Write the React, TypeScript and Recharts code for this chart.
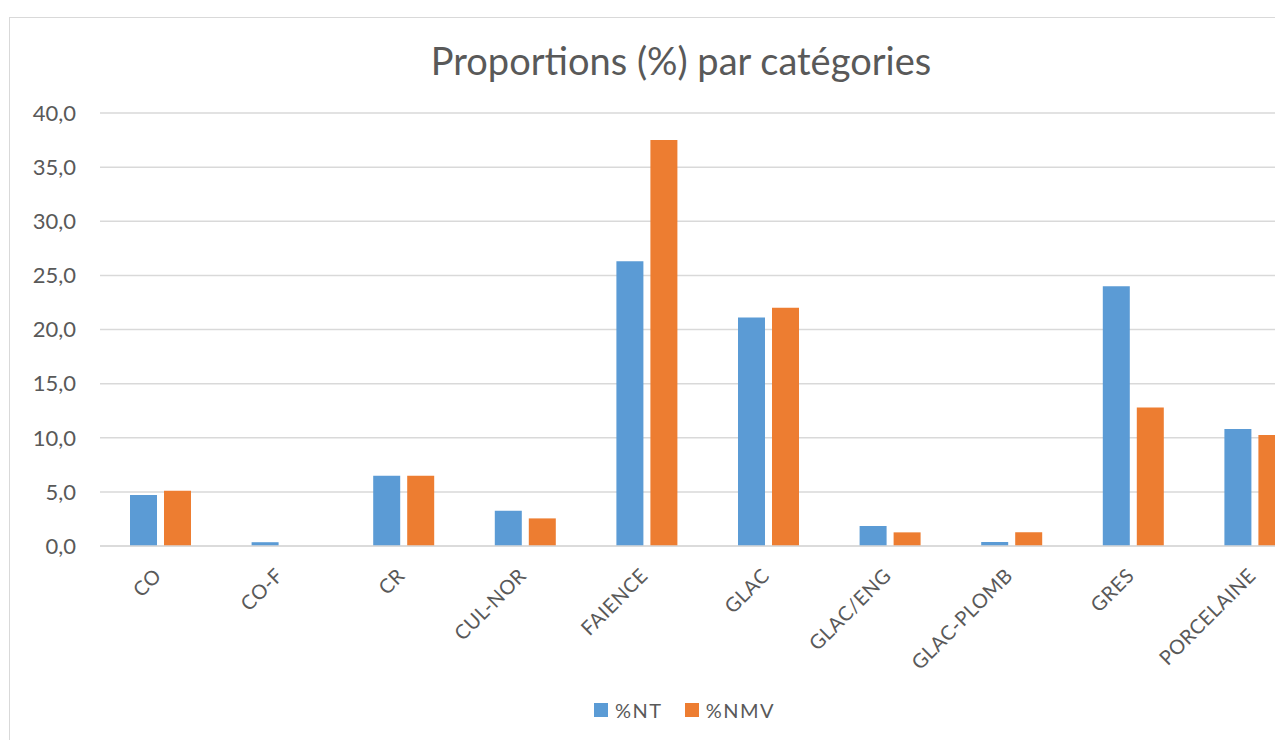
import React from "react";
import { Bar, BarChart, CartesianGrid, XAxis, YAxis } from "recharts";

const categories = [
  "CO",
  "CO-F",
  "CR",
  "CUL-NOR",
  "FAIENCE",
  "GLAC",
  "GLAC/ENG",
  "GLAC-PLOMB",
  "GRES",
  "PORCELAINE",
];
const nt = [4.7, 0.35, 6.5, 3.25, 26.3, 21.1, 1.85, 0.37, 24.0, 10.8];
const nmv = [5.1, 0, 6.5, 2.55, 37.5, 22.0, 1.26, 1.26, 12.8, 10.25];
const yTicks = [0, 5, 10, 15, 20, 25, 30, 35, 40];

const BLUE = "#5b9bd5";
const ORANGE = "#ed7d31";
const GRID = "#d9d9d9";
const TEXT = "#595959";
const FONT = "Lato, 'Open Sans', sans-serif";

const data = categories.map((name, i) => ({ name, nt: nt[i], nmv: nmv[i] }));

function AngledTick({ x, y, payload }: any) {
  return (
    <g transform={`translate(${x - 3},${y + 26})`}>
      <text
        transform="rotate(-45)"
        textAnchor="end"
        dy="0.35em"
        fill={TEXT}
        fontSize={20}
        letterSpacing={0.5}
        fontFamily={FONT}
      >
        {payload.value}
      </text>
    </g>
  );
}

function LegendItem({ color, label }: { color: string; label: string }) {
  return (
    <span style={{ display: "inline-flex", alignItems: "center", marginRight: 22 }}>
      <span style={{ width: 14, height: 14, background: color, marginRight: 7 }} />
      <span>{label}</span>
    </span>
  );
}

export default function App() {
  return (
    <div
      style={{
        position: "fixed",
        left: 0,
        top: 0,
        width: 1275,
        height: 740,
        overflow: "hidden",
        background: "#fff",
        fontFamily: FONT,
      }}
    >
      <div
        style={{
          position: "absolute",
          left: 9,
          top: 17,
          width: 1346,
          height: 800,
          border: `1px solid ${GRID}`,
          boxSizing: "border-box",
        }}
      />
      <div
        style={{
          position: "absolute",
          left: 0,
          top: 37,
          width: 1362,
          textAlign: "center",
          fontSize: 38,
          color: TEXT,
        }}
      >
        Proportions (%) par catégories
      </div>
      <div style={{ position: "absolute", left: 10, top: 18 }}>
        <BarChart
          width={1344}
          height={760}
          data={data}
          margin={{ top: 95, right: 38, left: 0, bottom: 0 }}
          barSize={27}
          barGap={7}
        >
          <CartesianGrid vertical={false} stroke={GRID} strokeWidth={1.5} />
          <XAxis
            dataKey="name"
            height={232}
            interval={0}
            tickLine={false}
            tickSize={0}
            tickMargin={0}
            axisLine={{ stroke: GRID, strokeWidth: 1.5 }}
            tick={<AngledTick />}
          />
          <YAxis
            width={90}
            domain={[0, 40]}
            ticks={yTicks}
            interval={0}
            axisLine={false}
            tickLine={false}
            tickSize={0}
            tickMargin={24}
            tick={{ fill: TEXT, fontSize: 22, fontFamily: FONT }}
            tickFormatter={(v: number) => v.toFixed(1).replace(".", ",")}
          />
          <Bar dataKey="nt" name="%NT" fill={BLUE} isAnimationActive={false} />
          <Bar dataKey="nmv" name="%NMV" fill={ORANGE} isAnimationActive={false} />
        </BarChart>
      </div>
      <div
        style={{
          position: "absolute",
          left: 594,
          top: 698,
          fontSize: 20,
          letterSpacing: 1.5,
          color: TEXT,
          display: "flex",
          whiteSpace: "nowrap",
        }}
      >
        <LegendItem color={BLUE} label="%NT" />
        <LegendItem color={ORANGE} label="%NMV" />
      </div>
    </div>
  );
}
